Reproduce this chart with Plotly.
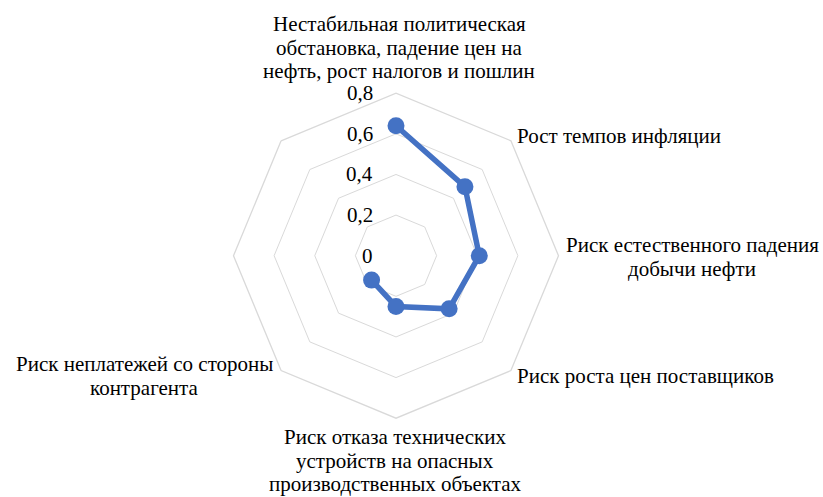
import plotly.graph_objects as go

categories = [
    "Нестабильная политическая<br>обстановка, падение цен на<br>нефть, рост налогов и пошлин",
    "Рост темпов инфляции",
    "Риск естественного падения<br>добычи нефти",
    "Риск роста цен поставщиков",
    "Риск отказа технических<br>устройств на опасных<br>производственных объектах",
    "Риск неплатежей со стороны<br>контрагента",
    " ",
    "  ",
]
values = [0.64, 0.48, 0.41, 0.37, 0.25, 0.17, None, None]
radial_ticks = [0, 0.2, 0.4, 0.6, 0.8]
radial_ticktext = ["0", "0,2", "0,4", "0,6", "0,8"]

W, H = 823, 497
cx, cy, R = 396, 255.7, 162.5
FONT = "Liberation Serif, Times New Roman, serif"
FS = 21
LINE_H = 23.5
BLUE = "#4472C4"
GRID = "#D9D9D9"

fig = go.Figure()
fig.add_trace(go.Scatterpolar(
    r=values, theta=categories, mode="lines+markers",
    line=dict(color=BLUE, width=5.5),
    marker=dict(color=BLUE, size=17),
    connectgaps=False, showlegend=False, hoverinfo="skip",
))

fig.update_layout(
    width=W, height=H,
    margin=dict(l=0, r=0, t=0, b=0),
    paper_bgcolor="white", plot_bgcolor="white",
    separators=", ",
    font=dict(family=FONT, size=FS, color="#000000"),
    polar=dict(
        domain=dict(x=[(cx - R) / W, (cx + R) / W], y=[1 - (cy + R) / H, 1 - (cy - R) / H]),
        bgcolor="white",
        gridshape="linear",
        radialaxis=dict(
            range=[0, 0.8], tickvals=radial_ticks, showticklabels=False,
            showline=False, ticks="", gridcolor=GRID, gridwidth=1.3,
        ),
        angularaxis=dict(
            type="category", categoryarray=categories,
            rotation=90, direction="clockwise",
            showticklabels=False, ticks="",
            showgrid=False, showline=True, linecolor=GRID, linewidth=1.3,
        ),
    ),
)

# radial tick labels
for v, t in zip(radial_ticks, radial_ticktext):
    fig.add_annotation(
        x=(cx - 22) / W, y=1 - (cy - v / 0.8 * R) / H, xref="paper", yref="paper",
        text=t, showarrow=False, xanchor="right", yanchor="middle", borderpad=0,
        font=dict(family=FONT, size=FS),
    )

# category labels: (anchor x, first-line center y, x-anchor)
label_pos = [
    (399, 24, "center"),
    (516, 136, "left"),
    (692, 245, "center"),
    (516, 376, "left"),
    (395, 437, "center"),
    (144, 364, "center"),
]
for (x, y, xa), txt in zip(label_pos, categories[:6]):
    for k, line in enumerate(txt.split("<br>")):
        fig.add_annotation(
            x=x / W, y=1 - (y + k * LINE_H) / H, xref="paper", yref="paper",
            text=line, showarrow=False, xanchor=xa, yanchor="middle", borderpad=0,
            font=dict(family=FONT, size=FS),
        )

fig.write_html(
    "out.html",
    config={"displayModeBar": False},
    post_script="document.body.style.margin='0';",
)
